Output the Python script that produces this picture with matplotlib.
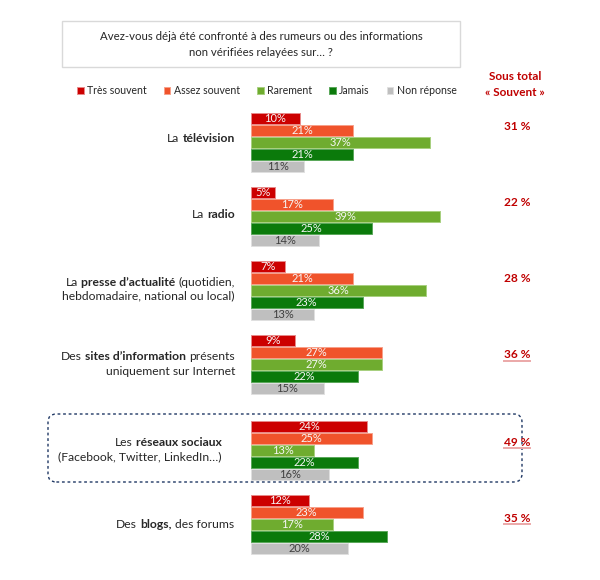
"""Rumeurs / informations non vérifiées par média — barres groupées."""
import matplotlib

matplotlib.use("Agg")
import matplotlib.pyplot as plt  # noqa: E402
from matplotlib.lines import Line2D  # noqa: E402
from matplotlib.patches import FancyBboxPatch, Rectangle  # noqa: E402

plt.rcParams["font.family"] = ["Lato", "DejaVu Sans"]

# ---- data -------------------------------------------------------------
series = ["Très souvent", "Assez souvent", "Rarement", "Jamais", "Non réponse"]
tres_souvent = [10, 5, 7, 9, 24, 12]
assez_souvent = [21, 17, 21, 27, 25, 23]
rarement = [37, 39, 36, 27, 13, 17]
jamais = [21, 25, 23, 22, 22, 28]
non_reponse = [11, 14, 13, 15, 16, 20]
sous_total = [31, 22, 28, 36, 49, 35]
underlined = [False, False, False, True, True, True]

# category labels: list of lines, each line a list of (text, bold)
labels = [
    [[("La", False), ("télévision", True)]],
    [[("La", False), ("radio", True)]],
    [[("La", False), ("presse d’actualité", True), ("(quotidien,", False)],
     [("hebdomadaire, national ou local)", False)]],
    [[("Des", False), ("sites d’information", True), ("présents", False)],
     [("uniquement sur Internet", False)]],
    [[("Les", False), ("réseaux sociaux", True)],
     [("(Facebook, Twitter, LinkedIn…)", False)]],
    [[("Des", False), ("blogs,", True), ("des forums", False)]],
]

colors = ["#CC0000", "#F0532B", "#6FAC2F", "#0B7A0B", "#BFBFBF"]
edges = ["#E88A8A", "#F8A08A", "#A8D080", "#5AA85A", "#E0E0E0"]
text_colors = ["#F6F6F6", "#F6F6F6", "#F6F6F6", "#F6F6F6", "#404040"]
RED = "#C00000"

# ---- layout (pixels) ----------------------------------------------------
W, H = 600, 580
X0 = 251            # pixel where 0 % sits
PX_PER_PCT = 4.85
group_y = [118, 192, 266, 340, 426, 500]   # first bar centre of each group
STEP = 12.1
label_right = [235, 235, 235, 235, 222, 234]
label_y = [[139], [214], [282, 295.5], [356, 371.5], [443, 457], [525]]
total_y = [127, 203, 278, 355, 442, 518]


def fx(x):
    return x / W


def fy(y):
    return 1 - y / H


fig = plt.figure(figsize=(W / 100, H / 100), dpi=100)
ax = fig.add_axes([0, 0, 1, 1])
ax.set_xlim(-X0 / PX_PER_PCT, (W - X0) / PX_PER_PCT)
ax.set_ylim(H, 0)
ax.axis("off")

all_series = [tres_souvent, assez_souvent, rarement, jamais, non_reponse]
for s, vals in enumerate(all_series):
    ys = [g + s * STEP for g in group_y]
    ax.barh(ys, vals, height=11, left=0, color=colors[s],
            edgecolor=edges[s], linewidth=0.7, label=series[s])
    for y, v in zip(ys, vals):
        ax.text(v / 2, y + 0.5, f"{v}%", ha="center", va="center",
                fontsize=8, color=text_colors[s])


def rich_right(x, y, parts, size=8.7):
    """Right-aligned line built from regular / bold chunks."""
    text, bold = parts[-1]
    prev = fig.text(fx(x), fy(y), text, ha="right", va="center",
                    fontsize=size, color="#262626",
                    fontweight="bold" if bold else "normal")
    for text, bold in reversed(parts[:-1]):
        prev = ax.annotate(text, xy=(0, 0.5), xycoords=prev,
                           xytext=(-2.4, 0), textcoords="offset points",
                           ha="right", va="center", fontsize=size,
                           color="#262626",
                           fontweight="bold" if bold else "normal")


for i, lines in enumerate(labels):
    for line, y in zip(lines, label_y[i]):
        rich_right(label_right[i], y, line)

# sous-totaux
fig.text(fx(515), fy(77), "Sous total", ha="center", va="center",
         fontsize=8.5, fontweight="bold", color=RED)
fig.text(fx(515), fy(92), "« Souvent »", ha="center", va="center",
         fontsize=8.5, fontweight="bold", color=RED)
for t, y, u in zip(sous_total, total_y, underlined):
    fig.text(fx(517), fy(y), f"{t} %", ha="center", va="center",
             fontsize=8.6, fontweight="bold", color=RED)
    if u:
        fig.add_artist(Line2D([fx(504), fx(530)], [fy(y + 5.5), fy(y + 5.5)],
                              color="#EBA8A8", lw=1.4))

# question box
fig.add_artist(Rectangle((fx(62), fy(67)), fx(460) - fx(62), fy(21) - fy(67),
                         facecolor="white", edgecolor="#D9D9D9", lw=1))
fig.text(fx(261), fy(37), "Avez-vous déjà été confronté à des rumeurs ou des informations",
         ha="center", va="center", fontsize=8.2, color="#262626")
fig.text(fx(261), fy(52), "non vérifiées relayées sur… ?",
         ha="center", va="center", fontsize=8.2, color="#262626")

# legend
leg = fig.legend(loc="center", bbox_to_anchor=(fx(267), fy(91)), ncol=5,
                 frameon=False, fontsize=7.6, handlelength=0.6,
                 handleheight=0.6, handletextpad=0.35, columnspacing=1.6)
for t in leg.get_texts():
    t.set_color("#262626")

# dashed highlight round "réseaux sociaux"
fig.add_artist(FancyBboxPatch((fx(48), fy(482)), fx(522) - fx(48), fy(414) - fy(482),
                              boxstyle="round,pad=0,rounding_size=0.014",
                              facecolor="none", edgecolor="#1F3864",
                              lw=1, linestyle=(0, (2, 2))))

fig.savefig("out.png", dpi=100)
